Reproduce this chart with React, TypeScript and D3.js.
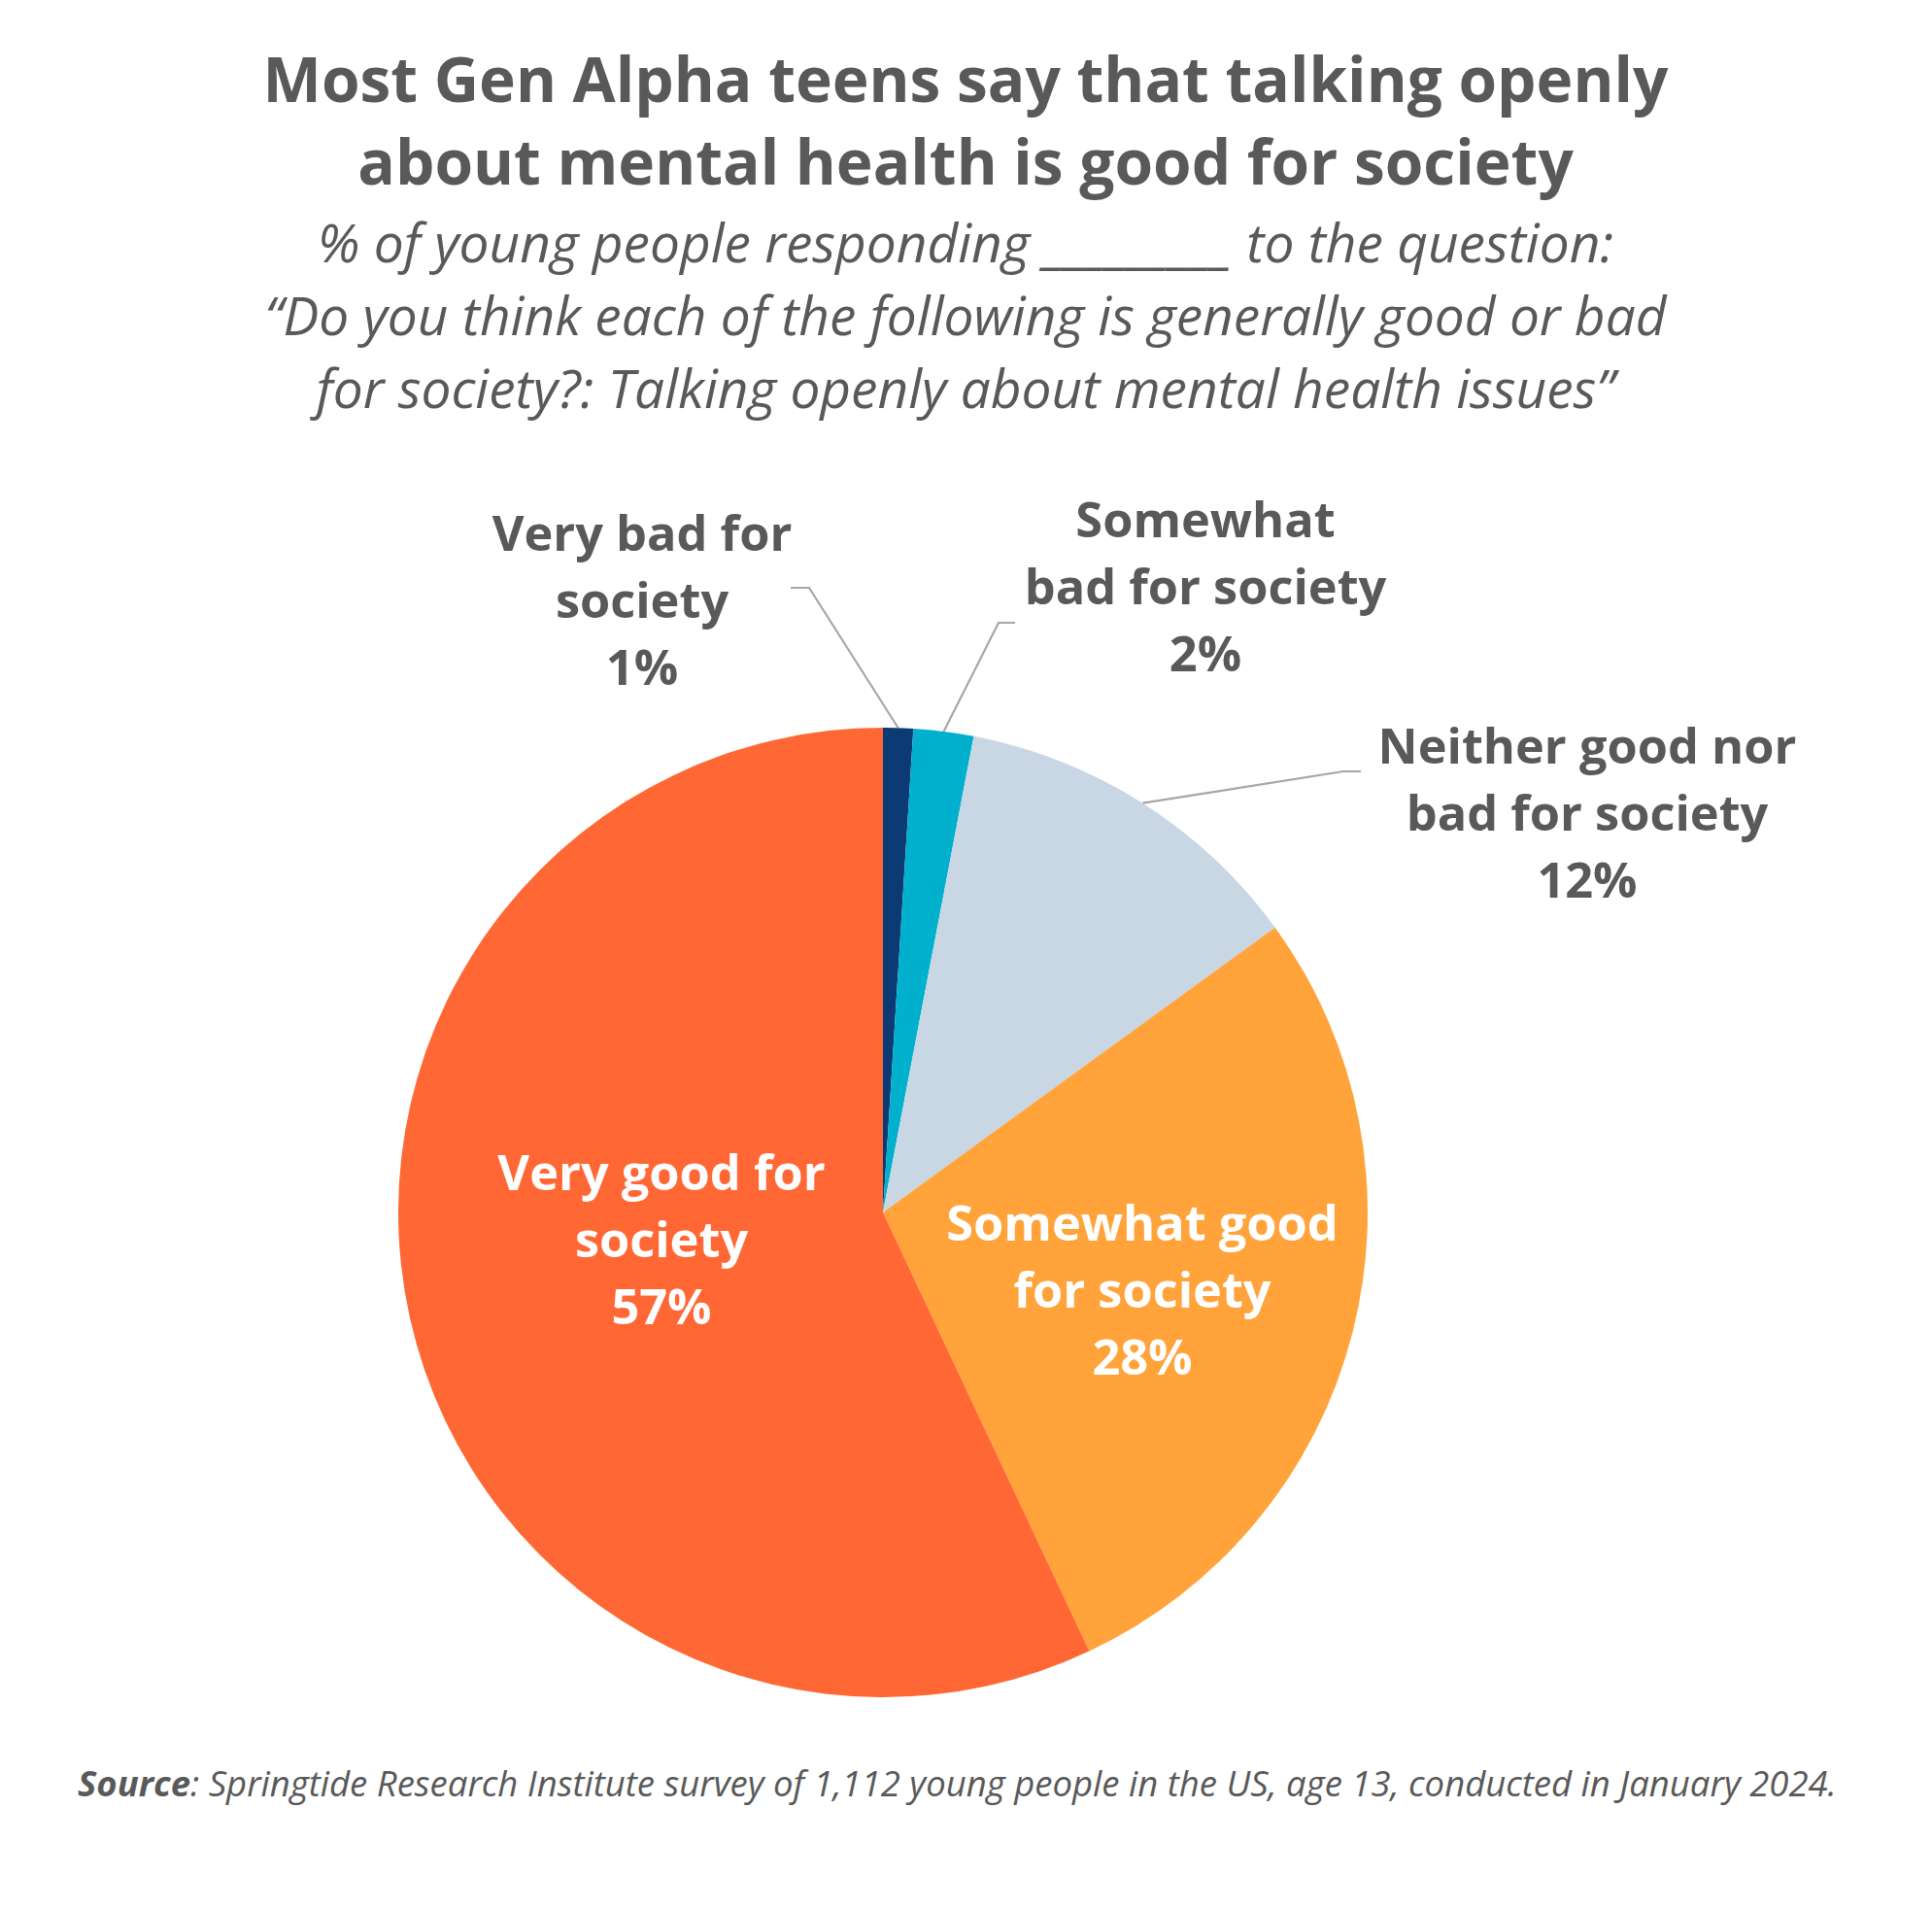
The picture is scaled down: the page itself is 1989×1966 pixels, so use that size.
import React from "react";
import * as d3 from "d3";

const categories = [
  "Very bad for society",
  "Somewhat bad for society",
  "Neither good nor bad for society",
  "Somewhat good for society",
  "Very good for society",
];
const values = [1, 2, 12, 28, 57];
const colors = ["#0B3A74", "#00B0CC", "#C9D7E4", "#FFA33A", "#FF6835"];
const labelLines = [
  ["Very bad for", "society"],
  ["Somewhat", "bad for society"],
  ["Neither good nor", "bad for society"],
  ["Somewhat good", "for society"],
  ["Very good for", "society"],
];

const W = 1989;
const H = 1966;
const CX = 909;
const CY = 1248;
const R = 499;
const TEXT = "#595959";
const FONT = "'Open Sans', sans-serif";

// label layout: x center, first baseline, inside?, leader elbow & stub end
const labelLayout = [
  { x: 661, y: 567, inside: false, elbow: [833, 605], stub: [814, 605] },
  { x: 1241, y: 553, inside: false, elbow: [1028, 641], stub: [1045, 641] },
  { x: 1634, y: 786, inside: false, elbow: [1383, 794], stub: [1401, 794] },
  { x: 1176, y: 1277, inside: true },
  { x: 681, y: 1225, inside: true },
];

export default function App() {
  const data = categories.map((c, i) => ({ c, v: values[i], i }));
  const pie = d3
    .pie<any>()
    .sort(null)
    .value((d) => d.v)
    .startAngle(0)
    .endAngle(2 * Math.PI);
  const arcs = pie(data);
  const arc = d3.arc<any>().innerRadius(0).outerRadius(R);
  const lineH = 69;

  return (
    <svg
      width={W}
      height={H}
      style={{ position: "absolute", left: 0, top: 0, background: "#fff" }}
      fontFamily={FONT}
    >
      <rect width={W} height={H} fill="#fff" />
      <g fill={TEXT} textAnchor="middle" fontWeight={700} fontSize={64}>
        <text x={994} y={105}>Most Gen Alpha teens say that talking openly</text>
        <text x={994} y={190}>about mental health is good for society</text>
      </g>
      <g fill={TEXT} textAnchor="middle" fontStyle="italic" fontSize={55}>
        <text x={994} y={270}>% of young people responding _________ to the question:</text>
        <text x={994} y={345}>
          “Do you think each of the following is generally good or bad
        </text>
        <text x={994} y={420}>for society?: Talking openly about mental health issues”</text>
      </g>
      <g transform={`translate(${CX},${CY})`}>
        {arcs.map((a, i) => (
          <path key={i} d={arc(a) as string} fill={colors[i]} />
        ))}
      </g>
      {arcs.map((a, i) => {
        const L = labelLayout[i];
        if (L.inside) return null;
        const mid = (a.startAngle + a.endAngle) / 2;
        const px = CX + R * Math.sin(mid);
        const py = CY - R * Math.cos(mid);
        const pts: [number, number][] = [[px, py], L.elbow as any, L.stub as any];
        return (
          <path
            key={"l" + i}
            d={d3.line()(pts) as string}
            fill="none"
            stroke="#A6A6A6"
            strokeWidth={2.2}
          />
        );
      })}
      {arcs.map((a, i) => {
        const L = labelLayout[i];
        const lines = [...labelLines[i], `${values[i]}%`];
        return (
          <text
            key={"t" + i}
            textAnchor="middle"
            fontWeight={700}
            fontSize={50.5}
            fill={L.inside ? "#FFFFFF" : TEXT}
          >
            {lines.map((s, j) => (
              <tspan key={j} x={L.x} y={L.y + j * lineH}>
                {s}
              </tspan>
            ))}
          </text>
        );
      })}
      <text x={80} y={1849} fill={TEXT} fontSize={36.5} fontStyle="italic">
        <tspan fontWeight={700}>Source</tspan>
        <tspan>
          : Springtide Research Institute survey of 1,112 young people in the US, age 13,
          conducted in January 2024.
        </tspan>
      </text>
    </svg>
  );
}
